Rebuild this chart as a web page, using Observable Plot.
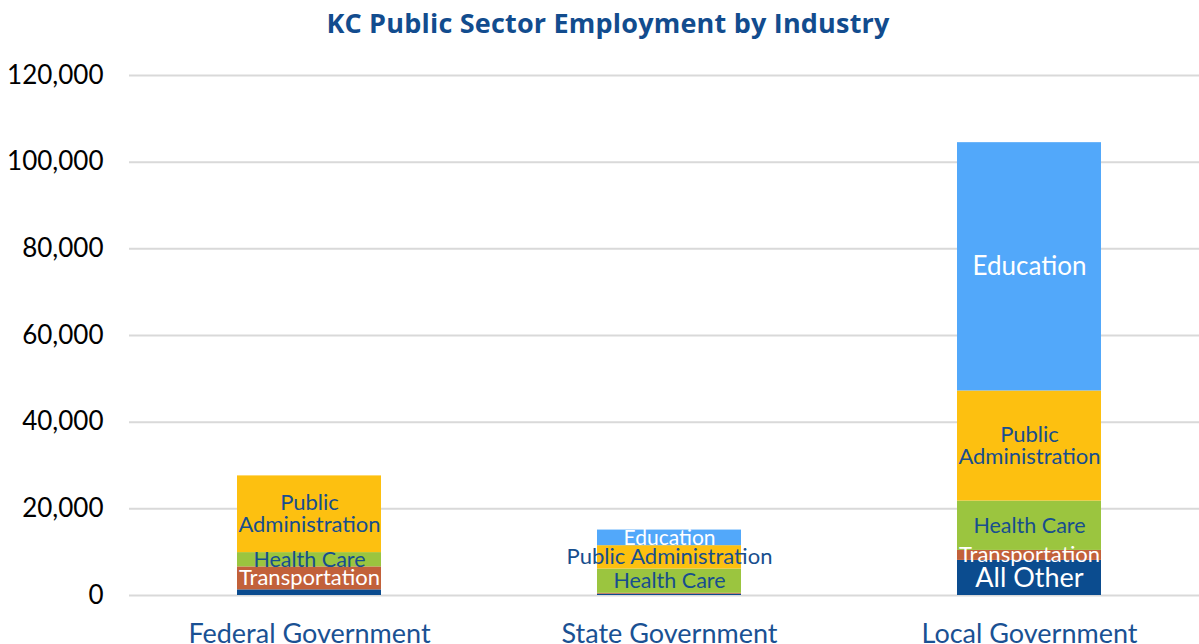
<!DOCTYPE html>
<html>
<head>
<meta charset="utf-8">
<script src="https://cdn.jsdelivr.net/npm/d3@7"></script>
<script src="https://cdn.jsdelivr.net/npm/@observablehq/plot@0.6"></script>
<style>
  html, body { margin: 0; padding: 0; background: #fff; overflow: hidden; }
  body { width: 1199px; height: 644px; font-family: Lato, "Open Sans", sans-serif; }
  #title { height: 45px; line-height: 45px; box-sizing: border-box; padding-left: 17px; text-align: center;
           font-family: "Open Sans", sans-serif; font-weight: 700; font-size: 27px; letter-spacing: 0.2px; color: #124C8E; }
</style>
</head>
<body>
<div id="title">KC Public Sector Employment by Industry</div>
<div id="chart"></div>
<script>
const governments = ["Federal Government", "State Government", "Local Government"];
const industries = ["All Other", "Transportation", "Health Care", "Public Administration", "Education"];
const federalValues = [1300, 5300, 3300, 17700, 0];
const stateValues = [300, 200, 5600, 5400, 3600];
const localValues = [8100, 2300, 11400, 25400, 57300];
const yTicks = [0, 20000, 40000, 60000, 80000, 100000, 120000];
const industryColors = ["#0B4C8F", "#C2613A", "#9BC53F", "#FDC010", "#52A8FA"];

// Data labels shown on segments (others hidden)
const federalLabels = ["", "Transportation", "Health Care", "Public\nAdministration", ""];
const stateLabels = ["", "", "Health Care", "Public Administration", "Education"];
const localLabels = ["All Other", "Transportation", "Health Care", "Public\nAdministration", "Education"];

const valuesByGov = [federalValues, stateValues, localValues];
const labelsByGov = [federalLabels, stateLabels, localLabels];
const rows = [];
governments.forEach((g, gi) => {
  industries.forEach((ind, ii) => {
    rows.push({gov: g, industry: ind, value: valuesByGov[gi][ii], label: labelsByGov[gi][ii]});
  });
});

const whiteText = new Set(["All Other", "Transportation", "Education"]);
const labelSize = d => {
  if (d.industry === "All Other") return 27;
  if (d.industry === "Education") return d.gov === "Local Government" ? 26 : 21;
  if (d.industry === "Health Care") return 21.5;
  return 22;
};

const stackOpts = (textFn) => Plot.stackY({
  x: "gov", y: "value", z: "industry", text: textFn, fontSize: labelSize
});

const chart = Plot.plot({
  width: 1199,
  height: 599,
  marginLeft: 129,
  marginRight: 0,
  marginTop: 30,
  marginBottom: 49,
  style: {fontFamily: "Lato, 'Open Sans', sans-serif", background: "white", overflow: "visible"},
  x: {type: "band", domain: governments, range: [129, 1209], paddingInner: 0.6, paddingOuter: 0.3, label: null},
  y: {domain: [0, 120000], label: null},
  color: {domain: industries, range: industryColors},
  marks: [
    Plot.ruleY(yTicks, {stroke: "#D9D9D9", strokeWidth: 2}),
    Plot.barY(rows, Plot.stackY({x: "gov", y: "value", z: "industry", fill: "industry"})),
    Plot.text(rows, stackOpts(d => whiteText.has(d.industry) ? d.label : "")) ,
    Plot.text(rows, {...stackOpts(d => whiteText.has(d.industry) ? "" : d.label), fill: "#174E8E"}),
    Plot.axisY({ticks: yTicks, tickFormat: d3.format(","), tickSize: 0, tickPadding: 26, fontSize: 26, fill: "#000", label: null}),
    Plot.axisX({tickSize: 0, tickPadding: 28, fontSize: 27, fill: "#1A5193", label: null})
  ]
});
// white labels
chart.querySelectorAll("g[aria-label='text']")[0].setAttribute("fill", "white");
document.getElementById("chart").appendChild(chart);
</script>
</body>
</html>
